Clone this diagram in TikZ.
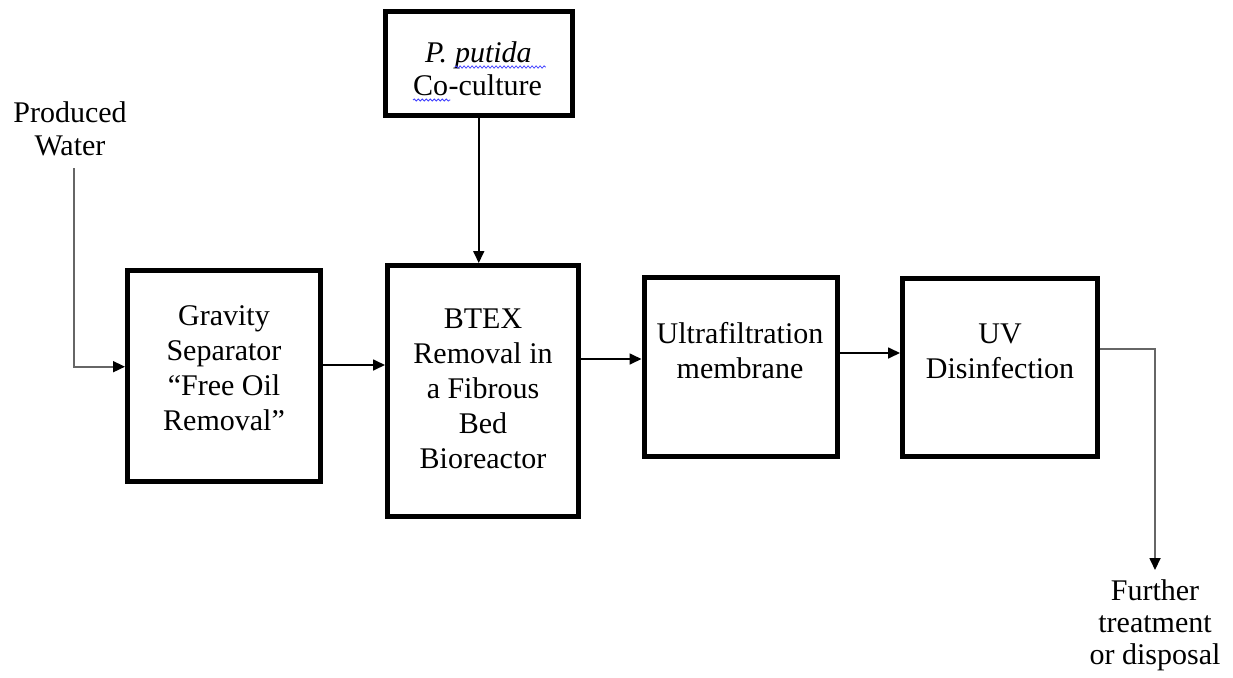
\documentclass[tikz,border=0pt]{standalone}
\usepackage{fontspec}
\setmainfont{Liberation Serif}
\usetikzlibrary{arrows.meta,decorations.pathmorphing,calc}

\begin{document}
\begin{tikzpicture}[x=1pt,y=-1pt,
  stage/.style={draw=black, line width=5pt, fill=white, rectangle, inner sep=0pt},
  lbl/.style={font=\fontsize{30}{35}\selectfont, align=center, inner sep=0pt, anchor=base},
  word/.style={font=\fontsize{30}{35}\selectfont, inner sep=0pt, anchor=base west},
  flow/.style={line width=1.7pt, -{Triangle[length=12pt,width=11pt,color=black]}},
  feed/.style={flow, draw=black!60},
  spell/.style={draw=blue!75!white, line width=0.8pt, decorate,
    decoration={snake, amplitude=1.1pt, segment length=4pt}}
]
\useasboundingbox (0,0) rectangle (1233,677);

% process units
\node[stage, minimum width=187.5pt, minimum height=104pt]   (coculture) at (478.75,63.5) {};
\node[stage, minimum width=192.5pt, minimum height=211pt]   (gravity)   at (223.75,375.5) {};
\node[stage, minimum width=190.5pt, minimum height=250.5pt] (btex)      at (482.75,390.75) {};
\node[stage, minimum width=193pt,   minimum height=179pt]   (uf)        at (740.5,367) {};
\node[stage, minimum width=194.5pt, minimum height=178.5pt] (uv)        at (999.75,367.25) {};

% unit labels (multi-line labels are placed by the baseline of their last line)
\node[word] (cP) at (425,63) {\textit{P.}};
\node[word] (cPutida) at ([xshift=7.5pt]cP.base east) {\textit{putida}};
\node[word] (cCo) at (413,95) {Co};
\node[word] (cCulture) at (cCo.base east) {-culture};
\draw[spell] ([yshift=-4pt]cPutida.base west) -- ([yshift=-4pt,xshift=14pt]cPutida.base east);
\draw[spell] ([yshift=-5pt]cCo.base west) -- ([yshift=-5pt,xshift=2pt]cCo.base east);

\node[lbl] (gravitytext) at (224,430) {Gravity\\Separator\\“Free Oil\\Removal”};
\node[lbl] (btextext) at (483,468) {BTEX\\Removal in\\a Fibrous\\Bed\\Bioreactor};
\node[lbl] (uftext) at (740,378) {Ultrafiltration\\membrane};
\node[lbl] (uvtext) at (1000,378) {UV\\Disinfection};

% stream labels
\node[lbl, font=\fontsize{30}{33}\selectfont] (inlet) at (70,155) {Produced\\Water};
\node[lbl, font=\fontsize{30}{32}\selectfont] (outlet) at (1155,664) {Further\\treatment\\or disposal};

% stream levels
\coordinate (pwstart) at (74,168);
\coordinate (rowA) at (0,366.7);
\coordinate (rowB) at (0,365);
\coordinate (rowC) at (0,359);
\coordinate (rowD) at (0,353);
\coordinate (rowE) at (0,349);
\coordinate (outend) at (1155,570);

% streams
\draw[feed] (pwstart) |- (gravity.west |- rowA);
\draw[flow] (coculture.south) -- (coculture.south |- btex.north);
\draw[flow] (gravity.east |- rowB) -- (btex.west |- rowB);
\draw[flow] (btex.east |- rowC) -- (uf.west |- rowC);
\draw[flow] (uf.east |- rowD) -- (uv.west |- rowD);
\draw[feed] (uv.east |- rowE) -| (outend);
\end{tikzpicture}
\end{document}
